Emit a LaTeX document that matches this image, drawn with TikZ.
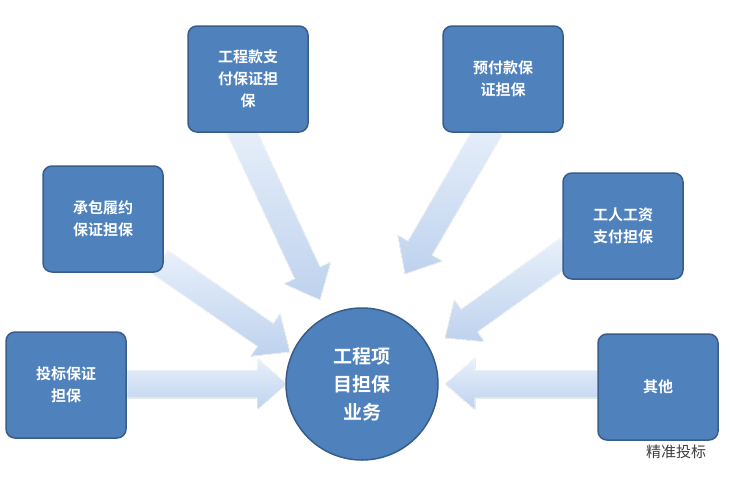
\documentclass[tikz,border=0pt]{standalone}
\usepackage{fontspec}
\newfontfamily\cjk{Noto Sans CJK SC}[BoldFont={Noto Sans CJK SC Bold}]
\usetikzlibrary{calc}
\definecolor{boxfill}{RGB}{79,129,189}
\definecolor{boxline}{RGB}{56,93,138}
\definecolor{arr}{RGB}{190,210,238}
\definecolor{arrlight}{RGB}{232,240,250}
\tikzset{
  box/.style={draw=boxline,line width=1.5pt,fill=boxfill,rounded corners=9pt,minimum width=120pt,minimum height=106pt,text=white,font=\cjk\bfseries\fontsize{15}{22}\selectfont,align=center,text width=92pt},
  hub/.style={circle,draw=boxline,line width=1.5pt,fill=boxfill,minimum size=152pt,text=white,font=\cjk\bfseries\fontsize{19}{28}\selectfont,align=center,text width=70pt},
  blockarr/.style={draw=white,line width=0.6pt,left color=arrlight,right color=arr}
}
\newcommand{\blockarrow}[2]{%
  \fill[blockarr,shading angle=0]
   ($(#1)!14pt!90:(#2)$) -- ($($(#2)!30pt!(#1)$)!14pt!-90:(#1)$) -- ($($(#2)!30pt!(#1)$)!26pt!-90:(#1)$) -- (#2)
   -- ($($(#2)!30pt!(#1)$)!26pt!90:(#1)$) -- ($($(#2)!30pt!(#1)$)!14pt!90:(#1)$) -- ($(#1)!14pt!-90:(#2)$) -- cycle;}
\begin{document}
\begin{tikzpicture}[x=1pt,y=-1pt]
\useasboundingbox (0,0) rectangle (742,485);
\fill[white] (0,0) rectangle (742,485);
% arrow coordinates
\coordinate (s1) at (127,384); \coordinate (t1) at (287,384);
\coordinate (s2) at (160,262); \coordinate (t2) at (290,352);
\coordinate (s3) at (240,128); \coordinate (t3) at (320,300);
\coordinate (s4) at (490,128); \coordinate (t4) at (405,274);
\coordinate (s5) at (568,250); \coordinate (t5) at (445,338);
\coordinate (s6) at (598,384); \coordinate (t6) at (445,384);
\blockarrow{s1}{t1}
\blockarrow{s2}{t2}
\blockarrow{s3}{t3}
\blockarrow{s4}{t4}
\blockarrow{s5}{t5}
\blockarrow{s6}{t6}
\node[box] (b1) at (66,385) {投标保证\\担保};
\node[box] (b2) at (103,219) {承包履约\\保证担保};
\node[box] (b3) at (248,79) {工程款支\\付保证担\\保};
\node[box] (b4) at (503,79) {预付款保\\证担保};
\node[box] (b5) at (623,226) {工人工资\\支付担保};
\node[box] (b6) at (658,387) {其他};
\node[hub] (c) at (362,384) {工程项\\目担保\\业务};
\node[font=\cjk\fontsize{15}{18}\selectfont,text=black!75] (wm) at (676,452) {精准投标};
\end{tikzpicture}
\end{document}
